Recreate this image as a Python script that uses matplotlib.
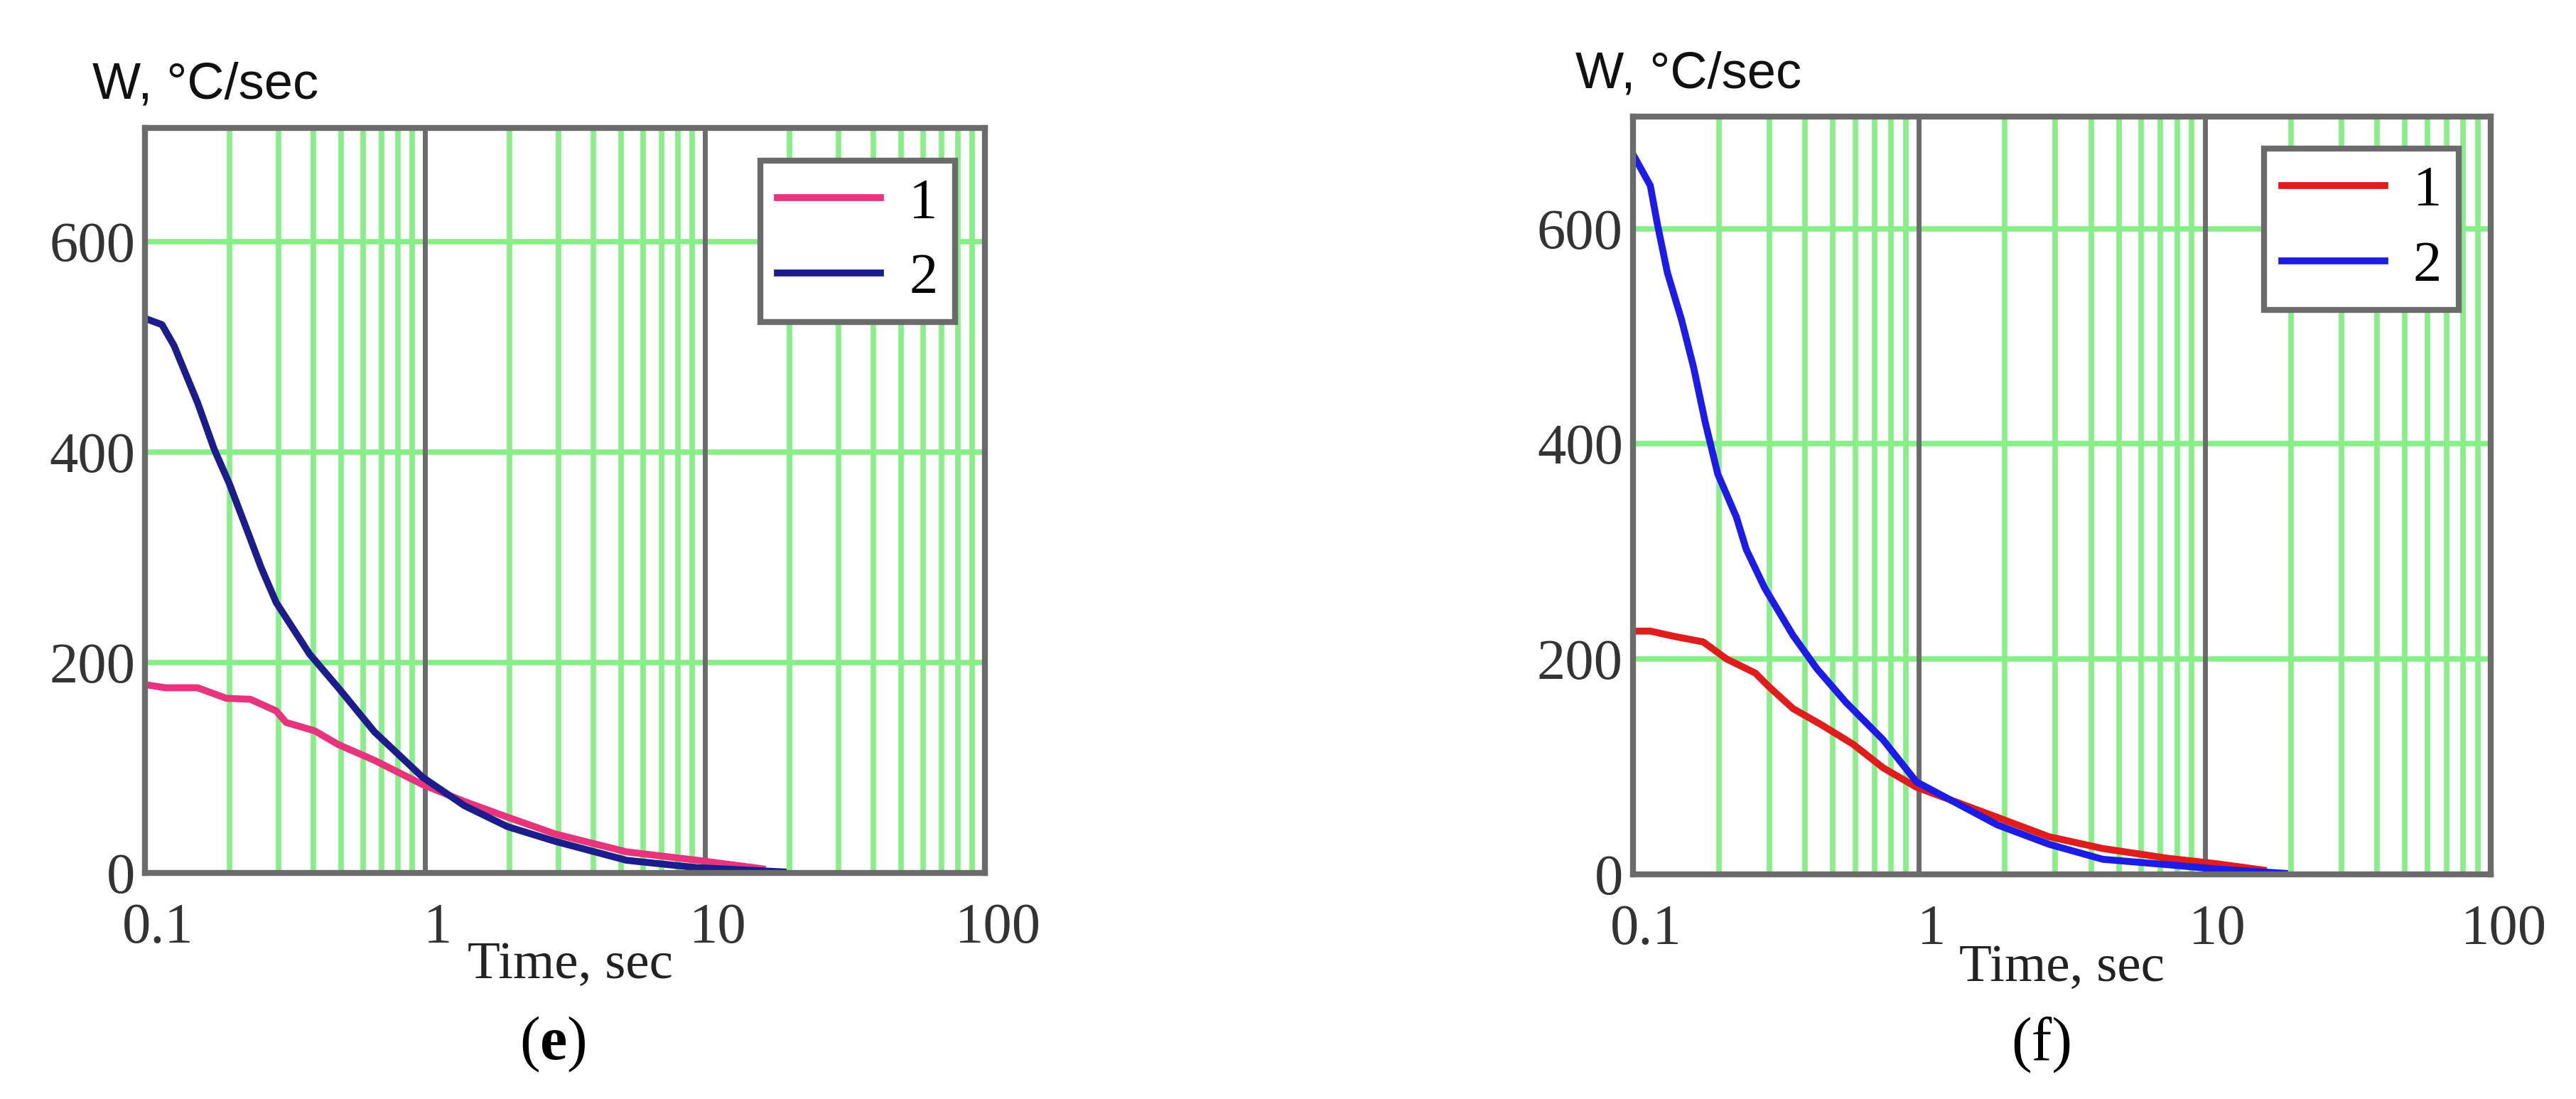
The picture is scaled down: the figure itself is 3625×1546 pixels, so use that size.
import numpy as np
import matplotlib
matplotlib.use("Agg")
import matplotlib.pyplot as plt
import matplotlib.transforms as mtransforms

# values (time in sec, W in degC/sec)
e_t1 = [0.1, 0.118, 0.154, 0.195, 0.238, 0.294, 0.319, 0.404, 0.49, 0.66, 0.98, 1.38, 1.97, 2.92, 5.25, 9.4, 16]
e_w1 = [179, 176, 176, 166, 165, 154, 143, 135, 122, 107, 84, 68, 53, 37, 20, 12, 4]
e_t2 = [0.1, 0.115, 0.127, 0.154, 0.177, 0.2, 0.232, 0.26, 0.294, 0.387, 0.49, 0.66, 0.98, 1.38, 1.97, 2.92, 5.25, 9.4, 19]
e_w2 = [527, 521, 501, 447, 402, 370, 325, 290, 257, 208, 176, 134, 91, 64, 44, 30, 12, 5, 1]

f_t1 = [0.1, 0.115, 0.14, 0.176, 0.213, 0.268, 0.3, 0.363, 0.456, 0.588, 0.75, 0.98, 1.88, 2.85, 4.4, 7.4, 10.9, 16]
f_w1 = [226, 226, 221, 216, 200, 187, 174, 154, 139, 121, 99, 81, 53, 35, 24, 15, 10, 4]
f_t2 = [0.1, 0.115, 0.122, 0.132, 0.148, 0.163, 0.179, 0.198, 0.23, 0.249, 0.289, 0.363, 0.44, 0.555, 0.75, 0.98, 1.88, 2.85, 4.4, 7.4, 10.9, 19]
f_w2 = [669, 640, 603, 559, 515, 471, 420, 372, 332, 302, 266, 222, 191, 160, 125, 86, 46, 28, 14, 9, 5, 1]

x_ticks = [0.1, 1, 10, 100]
x_labels = ["0.1", "1", "10", "100"]
y_ticks = [0, 200, 400, 600]
series_labels = ["1", "2"]

plt.rcParams["mathtext.fontset"] = "custom"
plt.rcParams["mathtext.rm"] = "Liberation Serif"
plt.rcParams["mathtext.bf"] = "Liberation Serif:bold"

GREEN = "#88ef88"
GREY = "#6b6b6b"
SERIF = "Liberation Serif"

fig = plt.figure(figsize=(36.25, 15.46), dpi=100)


def panel(rect, ymax, t1, w1, t2, w2, c1, c2, leg_anchor, ylab_x, ylab_y, xlab_x):
    ax = fig.add_axes(rect)
    ax.set_xscale("log")
    ax.set_xlim(0.1, 100)
    ax.set_ylim(0, ymax)

    # green grid: minor verticals and the horizontal lines
    for dec in [0.1, 1, 10]:
        for k in range(2, 10):
            ax.axvline(dec * k, color=GREEN, lw=5.5, zorder=1)
    for y in y_ticks[1:]:
        ax.axhline(y, color=GREEN, lw=5.5, zorder=1)
    # grey decade lines
    for x in [1, 10]:
        ax.axvline(x, color=GREY, lw=5, zorder=2)

    ax.plot(t1, w1, color=c1, lw=7, label=series_labels[0], zorder=3,
            solid_joinstyle="round")
    ax.plot(t2, w2, color=c2, lw=7, label=series_labels[1], zorder=4,
            solid_joinstyle="round")

    for s in ax.spines.values():
        s.set_color(GREY)
        s.set_linewidth(6)
        s.set_zorder(5)

    ax.set_xticks(x_ticks)
    ax.set_xticklabels(x_labels)
    ax.set_xticks([], minor=True)
    ax.set_yticks(y_ticks)
    ax.tick_params(length=0, labelsize=58, labelcolor="#333333")
    ax.tick_params(axis="x", pad=30)
    ax.tick_params(axis="y", pad=10)
    for lab in ax.get_xticklabels() + ax.get_yticklabels():
        lab.set_fontfamily(SERIF)
    dx = mtransforms.ScaledTranslation(0.18, 0, fig.dpi_scale_trans)
    for lab in ax.get_xticklabels():
        lab.set_transform(lab.get_transform() + dx)

    leg = ax.legend(loc="upper right", bbox_to_anchor=leg_anchor, borderaxespad=0,
                    fancybox=False, framealpha=1, edgecolor=GREY,
                    prop={"family": SERIF, "size": 58}, handlelength=1.8,
                    handletextpad=0.5, labelspacing=0.4, borderpad=0.3)
    leg.get_frame().set_linewidth(6)
    leg.set_zorder(6)

    ax.text(xlab_x, -0.124, "Time, sec", transform=ax.transAxes, ha="center",
            va="center", fontsize=54, family=SERIF, color="#222222")
    ax.text(ylab_x, ylab_y, "W, \u00b0C/sec", transform=ax.transAxes, ha="left",
            va="center", fontsize=52, family="Liberation Sans", color="#111111")
    return ax


panel([0.0563, 0.2057, 0.3261, 0.6779], 708, e_t1, e_w1, e_t2, e_w2,
      "#e8347c", "#1c1c8c", (0.964, 0.956), -0.063, 1.057, 0.506)
panel([0.6339, 0.2044, 0.3330, 0.6895], 704, f_t1, f_w1, f_t2, f_w2,
      "#e01c1c", "#1c1ce6", (0.963, 0.958), -0.067, 1.055, 0.50)

fig.text(0.2146, 0.0492, r"($\mathbf{e}$)", ha="center", va="center",
         fontsize=62, family=SERIF)
fig.text(0.7926, 0.0492, "(f)", ha="center", va="center",
         fontsize=62, family=SERIF)

fig.savefig("out.png", dpi=100, facecolor="white")
